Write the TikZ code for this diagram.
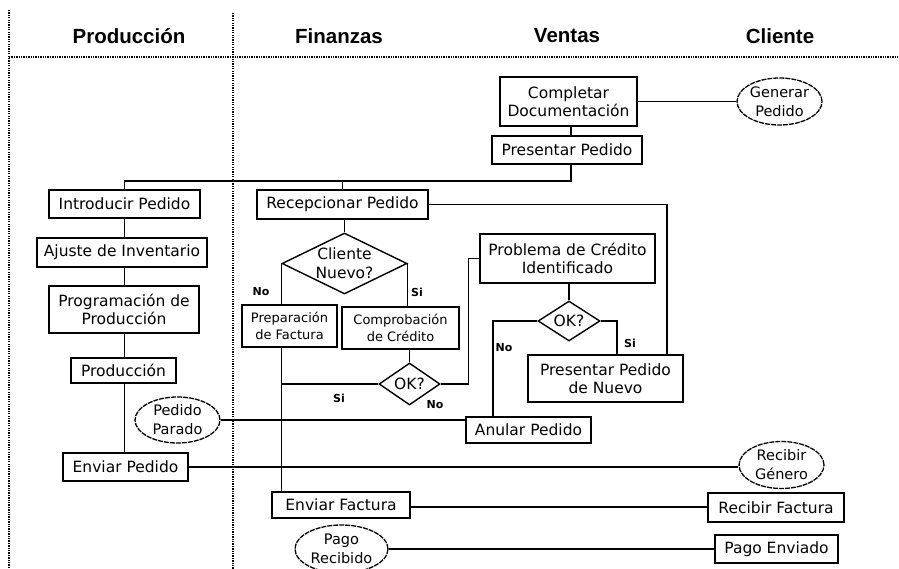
\documentclass[tikz,border=0pt]{standalone}
\usepackage{fontspec}
\setmainfont{DejaVu Sans}
\newfontfamily\headfont{Liberation Sans}
\usetikzlibrary{shapes.geometric}
\begin{document}
\begin{tikzpicture}[x=1pt,y=-1pt,
  every node/.style={inner sep=0pt, align=center},
  box/.style={draw, line width=1.5pt, fill=white, font=\fontsize{15.5}{18}\selectfont},
  smallbox/.style={box, font=\fontsize{13}{17}\selectfont},
  oval/.style={draw, ellipse, line width=1.3pt, dash pattern=on 5pt off 1pt, fill=white},
  ovaltext/.style={font=\fontsize{14.5}{19}\selectfont},
  decision/.style={draw, diamond, line width=1.4pt, fill=white},
  dtext/.style={font=\fontsize{15.5}{19}\selectfont},
  head/.style={font=\headfont\bfseries\fontsize{20.5}{24}\selectfont},
  flow/.style={line width=1.5pt},
  lane/.style={line width=1.2pt, dash pattern=on 1.3pt off 1.1pt},
  tag/.style={font=\bfseries\fontsize{11}{13}\selectfont}
]
\clip (0,0) rectangle (899,569);
\fill[white] (0,0) rectangle (899,569);

% swimlane dividers
\draw[lane] (9,10) -- (9,569);
\draw[lane] (233,13) -- (233,569);
\draw[lane] (9,57) -- (899,57);

% lane headings
\node[head] (hprod) at (129,36) {Producción};
\node[head] (hfin)  at (339,36) {Finanzas};
\node[head] (hven)  at (567,36) {Ventas};
\node[head] (hcli)  at (780,36) {Cliente};

% Ventas / Cliente
\node[box, minimum width=137pt, minimum height=49pt] (comp) at (568.5,101.5) {Completar\\Documentación};
\node[oval, minimum width=85pt, minimum height=47pt] (gen) at (779.5,101.5) {};
\node[ovaltext] (gent) at (gen) {Generar\\Pedido};
\node[box, minimum width=150pt, minimum height=28pt] (pres) at (567,150) {Presentar Pedido};

% Producción
\node[box, minimum width=151pt, minimum height=28pt] (intro) at (124.5,204) {Introducir Pedido};
\node[box, minimum width=170pt, minimum height=29pt] (ajuste) at (122,252.5) {Ajuste de Inventario};
\node[box, minimum width=150pt, minimum height=47pt] (prog) at (124,309.5) {Programación de\\Producción};
\node[box, minimum width=105pt, minimum height=25pt] (prodn) at (123.5,370.5) {Producción};
\node[box, minimum width=125pt, minimum height=28pt] (envp) at (125.5,467) {Enviar Pedido};
\node[oval, minimum width=85pt, minimum height=46pt] (parado) at (177.5,420) {};
\node[ovaltext] (paradot) at (parado) {Pedido\\Parado};

% Finanzas
\node[box, minimum width=171pt, minimum height=29pt] (recep) at (342.5,204.5) {Recepcionar Pedido};
\node[decision, minimum width=125pt, minimum height=61pt] (cn) at (344.5,263.5) {};
\node[dtext] (cnt) at (cn) {Cliente\\Nuevo?};
\node[smallbox, minimum width=95pt, minimum height=42pt] (prep) at (289.5,326) {Preparación\\de Factura};
\node[smallbox, minimum width=117pt, minimum height=42pt] (compc) at (400.5,328) {Comprobación\\de Crédito};
\node[decision, minimum width=61pt, minimum height=42pt] (ok1) at (409.5,384) {};
\node[dtext] (ok1t) at (ok1) {OK?};
\node[box, minimum width=138pt, minimum height=26pt] (envf) at (341,505) {Enviar Factura};
\node[oval, minimum width=93pt, minimum height=48pt] (prec) at (341.5,549) {};
\node[ovaltext] (prect) at (prec) {Pago\\Recibido};

% Ventas: credit problems
\node[box, minimum width=175pt, minimum height=49pt] (prob) at (567.5,258.5) {Problema de Crédito\\Identificado};
\node[decision, minimum width=62pt, minimum height=40pt] (ok2) at (569,321) {};
\node[dtext] (ok2t) at (ok2) {OK?};
\node[box, minimum width=155pt, minimum height=47pt] (ppn) at (605.5,378.5) {Presentar Pedido\\de Nuevo};
\node[box, minimum width=125pt, minimum height=26pt] (anular) at (528.5,430) {Anular Pedido};

% Cliente
\node[oval, minimum width=85pt, minimum height=47pt] (rgen) at (781.5,465) {};
\node[ovaltext] (rgent) at (rgen) {Recibir\\Género};
\node[box, minimum width=136pt, minimum height=29pt] (rfac) at (776,507.5) {Recibir Factura};
\node[box, minimum width=123pt, minimum height=28pt] (penv) at (776.5,549) {Pago Enviado};

% distribution bus
\coordinate (bus) at (0,181);

% connectors
\draw[flow] (comp.east) -- (gen.west);
\draw[flow] ([xshift=2.5pt]comp.south) -- ([xshift=4pt]pres.north);
\draw[flow] ([xshift=4pt]pres.south) |- (intro.north |- bus) -- (intro.north);
\draw[flow] (recep.north) -- (recep.north |- bus);

\draw[flow] (intro.south) -- (intro.south |- ajuste.north);
\draw[flow] (intro.south |- ajuste.south) -- (intro.south |- prog.north);
\draw[flow] (intro.south |- prog.south) -- (intro.south |- prodn.north);
\draw[flow] (intro.south |- prodn.south) -- (intro.south |- envp.north);

\draw[flow] (recep.east) -| ([xshift=61.5pt]ppn.north);
\draw[flow] ([xshift=2pt]recep.south) -- (cn.north);
\draw[flow] (cn.west) -- (cn.west |- prep.north);
\draw[flow] (cn.east) -- (cn.east |- compc.north);
\draw[flow] (cn.west |- prep.south) -- (cn.west |- envf.north);
\draw[flow] (ok1.north |- compc.south) -- (ok1.north);
\draw[flow] (ok1.west) -- (ok1.west -| cn.west);
\draw[flow] (ok1.east) -- ++(28,0) |- (prob.west);

\draw[flow] (ok2.north |- prob.south) -- (ok2.north);
\draw[flow] (ok2.west) -| ([xshift=-35.5pt]anular.north);
\draw[flow] (ok2.east) -| ([xshift=11.5pt]ppn.north);

\draw[flow] (parado.east) -- (parado.east -| anular.west);
\draw[flow] (envp.east) -- (envp.east -| rgen.west);
\draw[flow] ([yshift=-2pt]envf.east) -- ([yshift=-2pt]envf.east -| rfac.west);
\draw[flow] (prec.east) -- (prec.east -| penv.west);

% branch labels
\node[tag] (tno1) at (261,292) {No};
\node[tag] (tsi1) at (417,292) {Si};
\node[tag] (tsi2) at (339,398) {Si};
\node[tag] (tno2) at (435,405) {No};
\node[tag] (tno3) at (504,348) {No};
\node[tag] (tsi3) at (630,343) {Si};
\end{tikzpicture}
\end{document}
